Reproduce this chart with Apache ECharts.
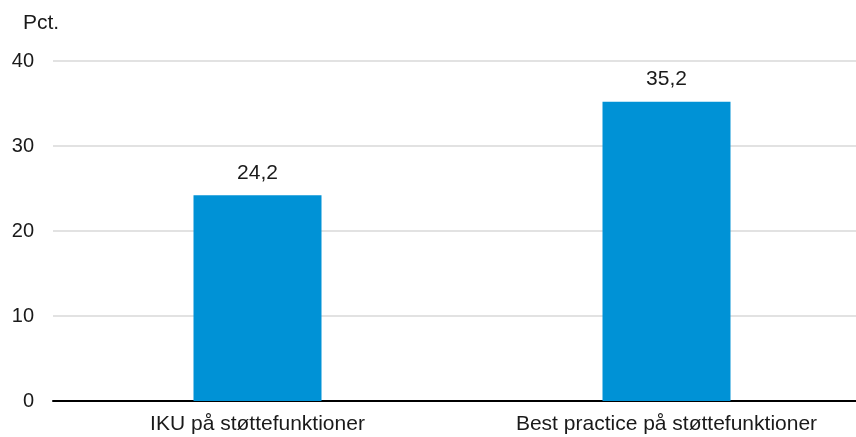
<!DOCTYPE html>
<html><head><meta charset="utf-8">
<script src="https://cdn.jsdelivr.net/npm/echarts@6/dist/echarts.min.js"></script>
<style>html,body{margin:0;padding:0;background:#fff;overflow:hidden;width:856px;height:437px}#c{width:871px;height:437px}</style>
</head><body><div id="c"></div>
<script>
var categories = ['IKU på støttefunktioner', 'Best practice på støttefunktioner'];
var values = [24.2, 35.2];
var yTicks = [0, 10, 20, 30, 40];
var unitLabel = 'Pct.';

var chart = echarts.init(document.getElementById('c'), null, {renderer: 'canvas'});
var font = 'Liberation Sans, Arial, sans-serif';
chart.setOption({
  animation: false,
  backgroundColor: '#fff',
  graphic: [{type: 'text', left: 23, top: 13, style: {text: unitLabel, font: '21px ' + font, fill: '#1a1a1a'}}],
  grid: {left: 53, top: 61, right: 0, bottom: 36, containLabel: false},
  xAxis: {
    type: 'category', data: categories,
    axisLine: {lineStyle: {color: '#000', width: 2}},
    axisTick: {show: false},
    axisLabel: {fontFamily: font, fontSize: 21, color: '#1a1a1a', margin: 13}
  },
  yAxis: {
    type: 'value', min: yTicks[0], max: yTicks[yTicks.length - 1], interval: 10,
    axisLine: {show: false}, axisTick: {show: false},
    splitLine: {lineStyle: {color: '#d9d9d9', width: 1.5}},
    axisLabel: {fontFamily: font, fontSize: 20, color: '#1a1a1a', margin: 19,
      formatter: function (v) { return String(v); }}
  },
  series: [{
    type: 'bar', data: values, barWidth: 128,
    itemStyle: {color: '#0092d6'},
    label: {show: true, position: 'top', distance: 12, fontFamily: font, fontSize: 21, color: '#1a1a1a',
      formatter: function (p) { return p.value.toFixed(1).replace('.', ','); }}
  }]
});
</script></body></html>
